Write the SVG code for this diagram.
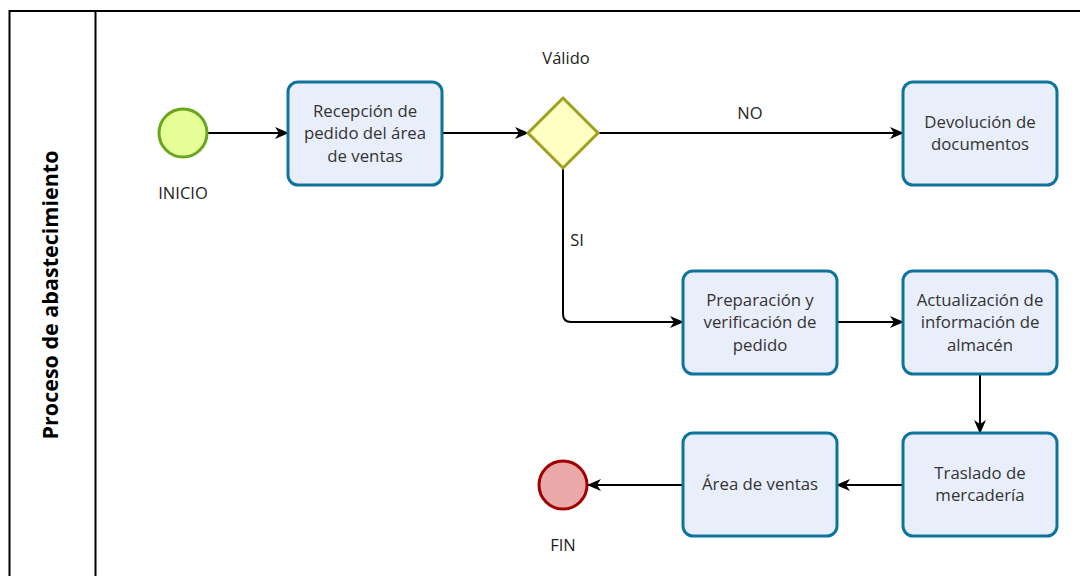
<svg xmlns="http://www.w3.org/2000/svg" width="1080" height="576" viewBox="0 0 1080 576">
<style>
.t{font-family:"Open Sans","Noto Sans",sans-serif;font-size:16.8px;fill:#333;text-anchor:middle}
.task{fill:#e9eefb;stroke:#10739e;stroke-width:3}
.c{fill:none;stroke:#000;stroke-width:2}
.lbl{font-family:"Open Sans","Noto Sans",sans-serif;font-size:16.5px;fill:#222;text-anchor:middle}
</style>
<defs>
<marker id="a" viewBox="0 0 14 12" refX="13" refY="6" markerWidth="14" markerHeight="12" markerUnits="userSpaceOnUse" orient="auto">
<path d="M0,0 L14,6 L0,12 L4,6 z" fill="#000"/>
</marker>
</defs>
<rect width="1080" height="576" fill="#fff"/>
<g id="pool">
<path d="M1082,11 H9.5 V580" fill="none" stroke="#000" stroke-width="2"/>
<line x1="95.5" y1="11" x2="95.5" y2="580" stroke="#000" stroke-width="2"/>
<text x="52" y="295" transform="rotate(-90 52 295)" font-family="'Open Sans','Noto Sans',sans-serif" font-size="21.5" font-weight="bold" fill="#000" text-anchor="middle" dominant-baseline="middle">Proceso de abastecimiento</text>
</g>
<g id="connectors">
<line class="c" x1="208" y1="133" x2="288" y2="133" marker-end="url(#a)"/>
<line class="c" x1="442" y1="133" x2="528" y2="133" marker-end="url(#a)"/>
<line class="c" x1="598" y1="133" x2="903" y2="133" marker-end="url(#a)"/>
<path class="c" d="M563,168 V314 Q563,322 571,322 H683" marker-end="url(#a)"/>
<line class="c" x1="837" y1="322" x2="903" y2="322" marker-end="url(#a)"/>
<line class="c" x1="980" y1="374" x2="980" y2="433" marker-end="url(#a)"/>
<line class="c" x1="903" y1="485" x2="837" y2="485" marker-end="url(#a)"/>
<line class="c" x1="683" y1="485" x2="588" y2="485" marker-end="url(#a)"/>
<text class="lbl" x="750" y="119">NO</text>
<text class="lbl" x="577" y="246">SI</text>
</g>
<g id="inicio">
<circle cx="183" cy="133" r="24" fill="#e6ff97" stroke="#6aa51f" stroke-width="3"/>
<text class="lbl" x="183" y="199">INICIO</text>
</g>
<g id="recepcion">
<rect class="task" x="288" y="82" width="154" height="103" rx="10"/>
<text class="t" x="365" y="117">Recepción de</text>
<text class="t" x="365" y="139">pedido del área</text>
<text class="t" x="365" y="162">de ventas</text>
</g>
<g id="valido">
<path d="M563,98 L598,133 L563,168 L528,133 Z" fill="#ffffc4" stroke="#a0a020" stroke-width="3"/>
<text class="lbl" x="566" y="64">Válido</text>
</g>
<g id="devolucion">
<rect class="task" x="903" y="82" width="154" height="103" rx="10"/>
<text class="t" x="980" y="128">Devolución de</text>
<text class="t" x="980" y="150">documentos</text>
</g>
<g id="preparacion">
<rect class="task" x="683" y="271" width="154" height="103" rx="10"/>
<text class="t" x="760" y="306">Preparación y</text>
<text class="t" x="760" y="328">verificación de</text>
<text class="t" x="760" y="351">pedido</text>
</g>
<g id="actualizacion">
<rect class="task" x="903" y="271" width="154" height="103" rx="10"/>
<text class="t" x="980" y="306">Actualización de</text>
<text class="t" x="980" y="328">información de</text>
<text class="t" x="980" y="351">almacén</text>
</g>
<g id="traslado">
<rect class="task" x="903" y="433" width="154" height="103" rx="10"/>
<text class="t" x="980" y="479">Traslado de</text>
<text class="t" x="980" y="501">mercadería</text>
</g>
<g id="area">
<rect class="task" x="683" y="433" width="154" height="103" rx="10"/>
<text class="t" x="760" y="490">Área de ventas</text>
</g>
<g id="fin">
<circle cx="563" cy="485" r="24" fill="#eaa8a8" stroke="#a00000" stroke-width="3"/>
<text class="lbl" x="563" y="551">FIN</text>
</g>
</svg>
